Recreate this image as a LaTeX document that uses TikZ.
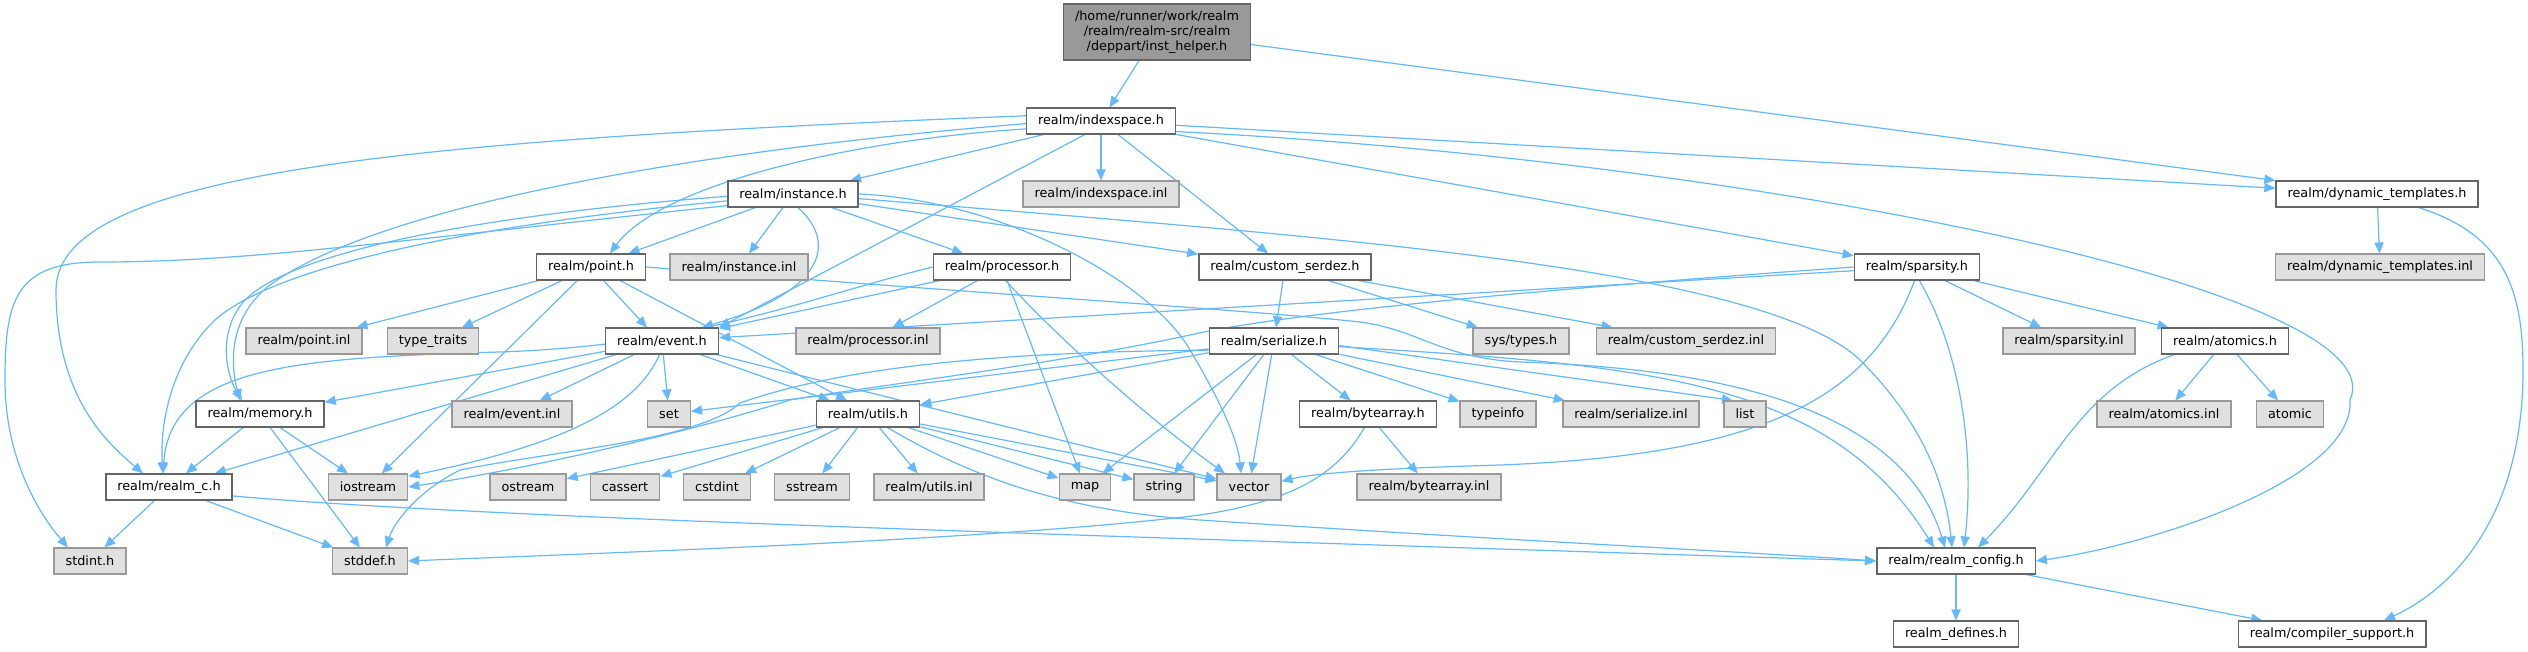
\documentclass[tikz,border=0pt]{standalone}
\usepackage{fontspec}
\setmainfont{DejaVu Sans}
\usetikzlibrary{arrows.meta,backgrounds}

\definecolor{depblue}{HTML}{63B8FF}
\definecolor{fileline}{HTML}{666666}
\definecolor{sysline}{HTML}{999999}
\definecolor{sysfill}{HTML}{E0E0E0}
\definecolor{rootfill}{HTML}{999999}

\begin{document}
\begin{tikzpicture}[x=0.5pt,y=-0.5pt,font=\fontsize{6.4}{7.5}\selectfont,
  file/.style={draw=fileline,fill=white,line width=0.75pt,
    inner xsep=5.75pt,inner ysep=0pt,minimum height=12.8pt},
  sysfile/.style={file,draw=sysline,fill=sysfill},
  rootfile/.style={file,fill=rootfill,align=center,minimum height=28pt},
  dep/.style={draw=depblue,line width=0.6pt,
    -{Triangle[length=5.5pt,width=4.6pt]}}]
% one unit is one pixel of the 2528x652 render, y running down
\useasboundingbox (0,0) rectangle (2528,652);
\def\rowa{121}\def\rowb{194}\def\rowc{267}\def\rowd{341}
\def\rowe{414}\def\rowf{487}\def\rowg{561}\def\rowh{634}

\node[rootfile] (insthelper) at (1157,32)
  {/home/runner/work/realm\\/realm/realm-src/realm\\/deppart/inst\_helper.h};

% headers documented in the graph
\foreach \nm/\px/\py/\lbl in {
    indexspace/1101/\rowa/{realm/indexspace.h},
    instance/793/\rowb/{realm/instance.h},
    dyntempl/2377/\rowb/{realm/dynamic\_templates.h},
    point/591/\rowc/{realm/point.h},
    processor/1002/\rowc/{realm/processor.h},
    customserdez/1285/\rowc/{realm/custom\_serdez.h},
    sparsity/1917/\rowc/{realm/sparsity.h},
    event/662/\rowd/{realm/event.h},
    serialize/1274/\rowd/{realm/serialize.h},
    atomics/2225/\rowd/{realm/atomics.h},
    memory/260/\rowe/{realm/memory.h},
    utils/868/\rowe/{realm/utils.h},
    bytearray/1368/\rowe/{realm/bytearray.h},
    realmc/169/\rowf/{realm/realm\_c.h},
    realmconfig/1956/\rowg/{realm/realm\_config.h},
    realmdefines/1956/\rowh/{realm\_defines.h},
    compilersupport/2332/\rowh/{realm/compiler\_support.h}}
  \node[file] (\nm) at (\px,\py) {\lbl};

% headers from outside (grey)
\foreach \nm/\px/\py/\lbl in {
    indexspaceinl/1101/\rowb/{realm/indexspace.inl},
    instanceinl/739/\rowc/{realm/instance.inl},
    dyntemplinl/2380/\rowc/{realm/dynamic\_templates.inl},
    pointinl/304/\rowd/{realm/point.inl},
    typetraits/433/\rowd/{type\_traits},
    processorinl/868/\rowd/{realm/processor.inl},
    systypes/1521/\rowd/{sys/types.h},
    customserdezinl/1686/\rowd/{realm/custom\_serdez.inl},
    sparsityinl/2069/\rowd/{realm/sparsity.inl},
    eventinl/512/\rowe/{realm/event.inl},
    set/669/\rowe/{set},
    typeinfo/1498/\rowe/{typeinfo},
    serializeinl/1631/\rowe/{realm/serialize.inl},
    list/1745/\rowe/{list},
    atomicsinl/2164/\rowe/{realm/atomics.inl},
    atomic/2290/\rowe/{atomic},
    iostream/368/\rowf/{iostream},
    ostream/528/\rowf/{ostream},
    cassert/625/\rowf/{cassert},
    cstdint/717/\rowf/{cstdint},
    sstream/812/\rowf/{sstream},
    utilsinl/929/\rowf/{realm/utils.inl},
    map/1085/\rowf/{map},
    string/1164/\rowf/{string},
    vector/1249/\rowf/{vector},
    bytearrayinl/1429/\rowf/{realm/bytearray.inl},
    stdint/90/\rowg/{stdint.h},
    stddef/370/\rowg/{stddef.h}}
  \node[sysfile] (\nm) at (\px,\py) {\lbl};

\begin{scope}[on background layer]
% plain includes
\foreach \a/\b in {insthelper/indexspace, insthelper/dyntempl,
    indexspace/instance, indexspace/indexspaceinl, indexspace/dyntempl,
    indexspace/customserdez, indexspace/sparsity,
    instance/point, instance/instanceinl, instance/processor,
    instance/customserdez,
    point/pointinl, point/typetraits, point/iostream,
    processor/event, processor/processorinl, processor/map,
    customserdez/serialize, customserdez/systypes,
    customserdez/customserdezinl,
    sparsity/event, sparsity/sparsityinl, sparsity/atomics,
    dyntempl/dyntemplinl,
    event/memory, event/realmc, event/eventinl, event/set, event/utils,
    event/vector,
    memory/realmc, memory/iostream, memory/stddef,
    realmc/stdint, realmc/stddef,
    serialize/set, serialize/utils, serialize/map, serialize/string,
    serialize/vector, serialize/bytearray, serialize/typeinfo,
    serialize/serializeinl,
    utils/ostream, utils/cassert, utils/cstdint, utils/sstream,
    utils/utilsinl, utils/map, utils/string, utils/vector,
    bytearray/bytearrayinl, atomics/atomicsinl, atomics/atomic,
    realmconfig/realmdefines, realmconfig/compilersupport}
  \draw[dep] (\a) -- (\b);

% includes that need a route of their own
\draw[dep] (indexspace.-140) -- (event.north east);
\draw[dep] (indexspace.186) .. controls (850,140) and (660,185) .. ([xshift=9.5pt]point.north);
\draw[dep] (indexspace.182) .. controls (700,150) and (380,205) .. (270,285)
  .. controls (225,320) and (232,370) .. ([xshift=-10pt]memory.north);
\draw[dep] (indexspace.176) .. controls (420,140) and (56,170) .. (56,290)
  .. controls (56,400) and (110,445) .. ([xshift=-13pt]realmc.north);
\draw[dep] (indexspace.-8) .. controls (1750,160) and (2400,290) .. (2350,400)
  .. controls (2355,480) and (2150,545) .. (realmconfig.east);

\draw[dep] (instance.-70) .. controls (835,240) and (830,290) .. ([xshift=20pt]event.north);
\draw[dep] (instance.182) .. controls (520,212) and (300,245) .. (245,300)
  .. controls (218,330) and (225,372) .. ([xshift=-9pt]memory.north);
\draw[dep] (instance.186) .. controls (500,222) and (280,262) .. (215,320)
  .. controls (168,365) and (160,430) .. ([xshift=-3pt]realmc.north);
\draw[dep] (instance.190) .. controls (400,240) and (250,262) .. (100,262)
  .. controls (15,262) and (5,300) .. (5,380)
  .. controls (5,460) and (40,515) .. ([xshift=-11pt]stdint.north);
\draw[dep] (instance.east) .. controls (1000,200) and (1150,280) .. (1190,350)
  .. controls (1220,400) and (1238,440) .. ([xshift=-4pt]vector.north);
\draw[dep] (instance.-4) .. controls (1300,235) and (1760,265) .. (1860,360)
  .. controls (1920,420) and (1945,480) .. ([xshift=-2pt]realmconfig.north);

\draw[dep] (point) -- ([xshift=-7.5pt]event.north);
\draw[dep] (point.-25) -- ([xshift=-10.5pt]utils.north);
\draw[dep] (point.east) .. controls (1000,295) and (1250,310) .. (1360,322)
  .. controls (1420,330) and (1440,358) .. (1520,362)
  .. controls (1700,368) and (1900,400) .. ([xshift=-5.5pt]realmconfig.north);

\draw[dep] (processor.west) .. controls (800,300) and (700,345) .. (500,352)
  .. controls (300,358) and (170,365) .. ([xshift=-3pt]realmc.north);
\draw[dep] (processor.-75) .. controls (1060,340) and (1150,420) .. ([xshift=-12pt]vector.north);

\draw[dep] (sparsity.west) .. controls (1600,285) and (1300,310) .. (1190,335)
  .. controls (1050,365) and (880,385) .. (790,400)
  .. controls (680,435) and (520,470) .. (iostream.east);
\draw[dep] (sparsity.-100) .. controls (1870,400) and (1760,455) .. (1500,465)
  .. controls (1400,468) and (1320,472) .. (vector.10);
\draw[dep] (sparsity.-80) .. controls (1960,350) and (1975,450) .. ([xshift=4pt]realmconfig.north);

\draw[dep] (dyntempl.-18) .. controls (2505,235) and (2523,290) .. (2523,370)
  .. controls (2523,520) and (2450,590) .. ([xshift=26pt]compilersupport.north);

\draw[dep] (event.-100) .. controls (635,410) and (560,445) .. (iostream.15);

\draw[dep] (realmc.-8) .. controls (450,515) and (900,530) .. (realmconfig.west);

\draw[dep] (serialize.188) .. controls (950,352) and (820,375) .. (740,403)
  .. controls (700,440) and (560,450) .. (460,470)
  .. controls (420,490) and (395,520) .. ([xshift=8pt]stddef.north);
\draw[dep] (serialize.-4) -- ([xshift=-6pt]list.north);
\draw[dep] (serialize.-5) .. controls (1650,365) and (1830,380) .. ([xshift=-11pt]realmconfig.north);

\draw[dep] (utils.-35) .. controls (960,470) and (1050,510) .. (1200,520)
  .. controls (1500,540) and (1750,552) .. (realmconfig.west);

\draw[dep] (bytearray.-105) .. controls (1340,470) and (1300,500) .. (1200,515)
  .. controls (1000,540) and (600,553) .. (stddef.east);

\draw[dep] (atomics.-165) .. controls (2075,390) and (2055,470) .. ([xshift=11pt]realmconfig.north);
\end{scope}
\end{tikzpicture}
\end{document}
